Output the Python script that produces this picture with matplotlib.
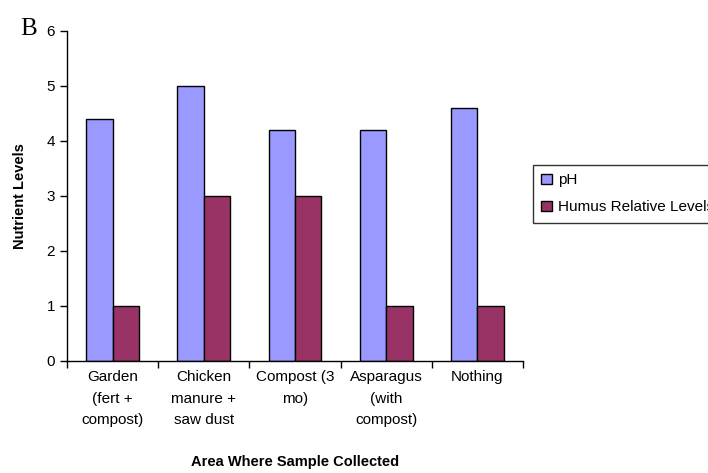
import numpy as np
import matplotlib.pyplot as plt

plt.rcParams['font.family'] = ['Liberation Sans', 'DejaVu Sans']

areas = ["Garden\n(fert +\ncompost)", "Chicken\nmanure +\nsaw dust",
         "Compost (3\nmo)", "Asparagus\n(with\ncompost)", "Nothing"]
ph = [4.4, 5.0, 4.2, 4.2, 4.6]
humus = [1, 3, 3, 1, 1]

fig = plt.figure(figsize=(7.08, 4.73), dpi=100)
ax = fig.add_axes([0.0946, 0.2374, 0.644, 0.6976])

x = np.arange(len(areas))
w = 0.29
b1 = ax.bar(x - w / 2, ph, w, color="#9999FF", edgecolor="black", linewidth=1, label="pH")
b2 = ax.bar(x + w / 2, humus, w, color="#993366", edgecolor="black", linewidth=1,
            label="Humus Relative Levels")

ax.set_xlim(-0.5, len(areas) - 0.5)
ax.set_ylim(0, 6)
ax.set_yticks(range(7))
ax.set_xticks(x)
ax.set_xticklabels(areas, linespacing=1.65, fontsize=11, va="top")
ax.set_xticks(np.arange(-0.5, len(areas)), minor=True)
ax.tick_params(axis="x", which="major", length=0, pad=7)
ax.tick_params(axis="x", which="minor", length=5, direction="out", width=1)
ax.tick_params(axis="y", length=5, direction="out", width=1, labelsize=11)

for s in ["top", "right"]:
    ax.spines[s].set_visible(False)
for s in ["left", "bottom"]:
    ax.spines[s].set_linewidth(1)

ax.set_ylabel("Nutrient Levels", fontsize=10.5, fontweight="bold", labelpad=14)
ax.set_xlabel("Area Where Sample Collected", fontsize=10.5, fontweight="bold", labelpad=20)

fig.text(0.028, 0.925, "B", fontsize=18, family="Liberation Serif")

leg = fig.legend(handles=[b1, b2], loc="upper left", bbox_to_anchor=(533 / 708, 1 - 165 / 473),
                 frameon=True, fancybox=False, edgecolor="black", fontsize=11,
                 handlelength=0.7, handleheight=0.7, handletextpad=0.4, borderaxespad=0,
                 borderpad=0.55, labelspacing=0.85)
leg.get_frame().set_linewidth(1)

fig.savefig("out.png", dpi=100)
